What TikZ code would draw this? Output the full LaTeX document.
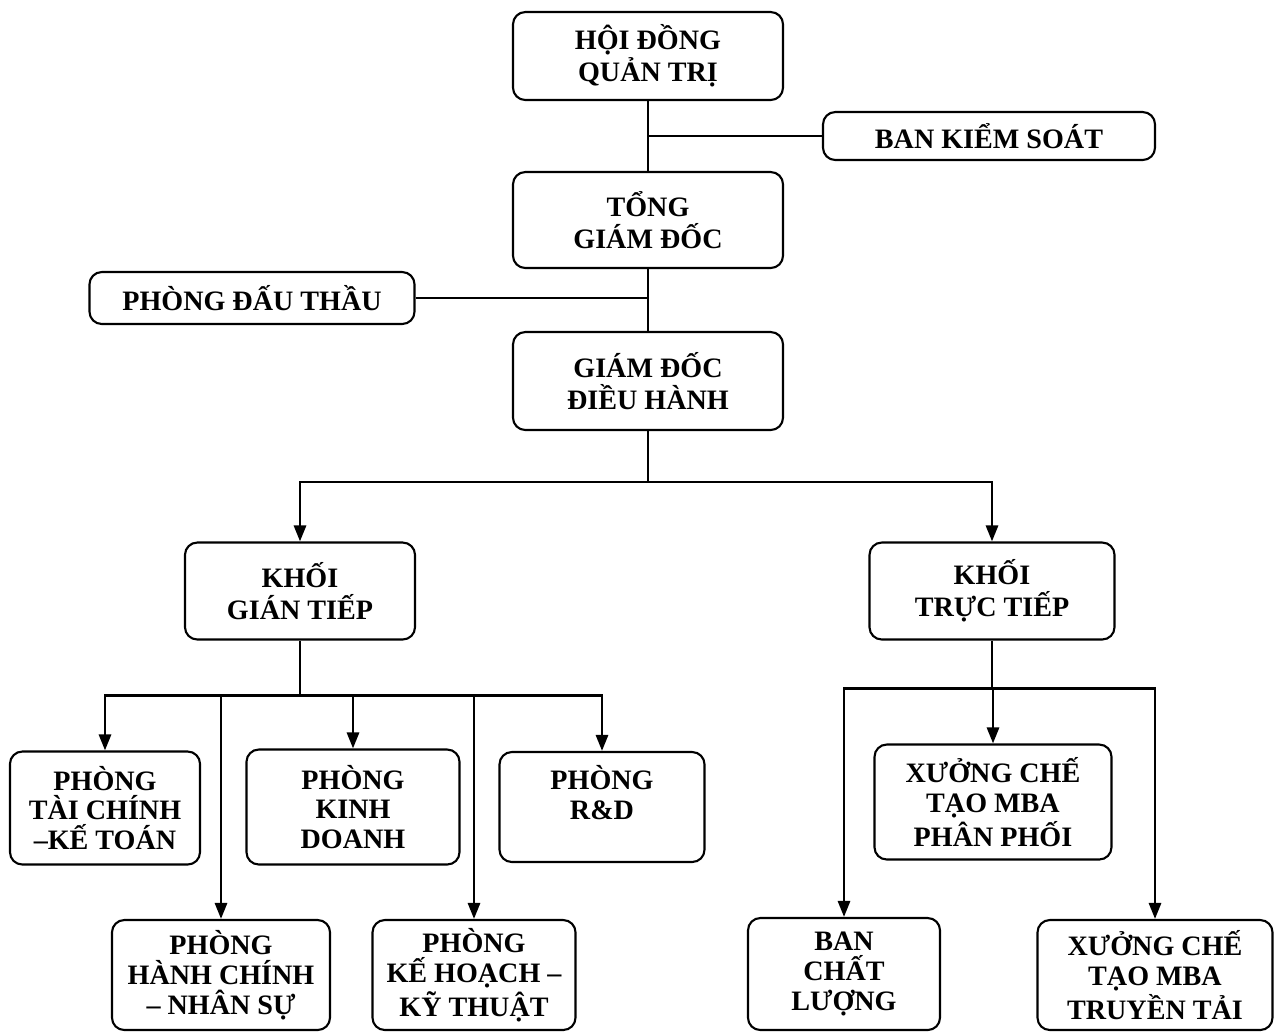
\documentclass[tikz,border=0pt]{standalone}
\usepackage{fontspec}
\setmainfont{Liberation Serif}
\usetikzlibrary{arrows.meta, positioning, calc}

\begin{document}
\begin{tikzpicture}[
  every node/.style={font=\bfseries\fontsize{8}{9.2}\selectfont, align=center},
  box/.style={draw, semithick, rounded corners=3.5pt, inner sep=0pt},
  tight/.style={font=\bfseries\fontsize{8}{8.5}\selectfont},
  link/.style={thick},
  arr/.style={thick, -{Triangle[length=1.6mm,width=1.2mm]}}
]
\useasboundingbox (0,0) rectangle (12.82,-10.32);
% top of the chart
\node[box, minimum width=2.70cm, minimum height=0.88cm] (hdqt) at (6.48,-0.56) {HỘI ĐỒNG\\QUẢN TRỊ};
\node[box, minimum width=3.32cm, minimum height=0.48cm] (bks) at (9.89,-1.36) {BAN KIỂM SOÁT};
\node[box, minimum width=2.70cm, minimum height=0.96cm] (tgd) at (6.48,-2.20) {TỔNG\\GIÁM ĐỐC};
\node[box, minimum width=3.25cm, minimum height=0.52cm] (pdt) at (2.52,-2.98) {PHÒNG ĐẤU THẦU};
\node[box, minimum width=2.70cm, minimum height=0.98cm] (gddh) at (6.48,-3.81) {GIÁM ĐỐC\\ĐIỀU HÀNH};
% two blocks
\node[box, minimum width=2.30cm, minimum height=0.97cm] (kgt) at (3.00,-5.91) {KHỐI\\GIÁN TIẾP};
\node[box, minimum width=2.45cm, minimum height=0.97cm] (ktt) at (9.92,-5.91) {KHỐI\\TRỰC TIẾP};
% departments
\node[box, tight, minimum width=1.90cm, minimum height=1.13cm] (ptc) at (1.05,-8.08) {PHÒNG\\TÀI CHÍNH\\–KẾ TOÁN};
\node[box, tight, minimum width=2.13cm, minimum height=1.15cm] (pkd) at (3.53,-8.07) {PHÒNG\\KINH\\DOANH};
\node[box, tight, minimum width=2.05cm, minimum height=1.10cm] (prd) at (6.02,-8.07) {PHÒNG\\R\&D\\\mbox{}};
\node[box, tight, minimum width=2.18cm, minimum height=1.10cm] (phc) at (2.21,-9.75) {PHÒNG\\HÀNH CHÍNH\\– NHÂN SỰ};
\node[box, tight, minimum width=2.03cm, minimum height=1.10cm] (pkh) at (4.74,-9.75) {PHÒNG\\KẾ HOẠCH –\\KỸ THUẬT};
\node[box, tight, minimum width=2.37cm, minimum height=1.15cm] (xpp) at (9.93,-8.02) {XƯỞNG CHẾ\\TẠO MBA\\PHÂN PHỐI};
\node[box, tight, minimum width=1.92cm, minimum height=1.12cm] (bcl) at (8.44,-9.74) {BAN\\CHẤT\\LƯỢNG};
\node[box, tight, minimum width=2.35cm, minimum height=1.10cm] (xtt) at (11.55,-9.75) {XƯỞNG CHẾ\\TẠO MBA\\TRUYỀN TẢI};

\draw[link] (hdqt) -- (tgd) (tgd) -- (gddh);
\draw[link] (bks.west) -- (bks.west -| hdqt.south);
\draw[link] (pdt.east) -- (pdt.east -| tgd.south);

\draw[link] (gddh.south) -- ++(0,-0.51) coordinate (j1);
\draw[arr] (j1) -| (kgt.north);
\draw[arr] (j1) -| (ktt.north);

\draw[link] (kgt.south) -- ++(0,-0.55) coordinate (j2);
\foreach \d in {ptc,pkd,prd,phc,pkh}
  \draw[arr] (j2) -| (\d.north);

\draw[link] (ktt.south) -- ++(0,-0.48) coordinate (j3);
\foreach \d in {bcl,xpp,xtt}
  \draw[arr] (j3) -| (\d.north);
\end{tikzpicture}
\end{document}
